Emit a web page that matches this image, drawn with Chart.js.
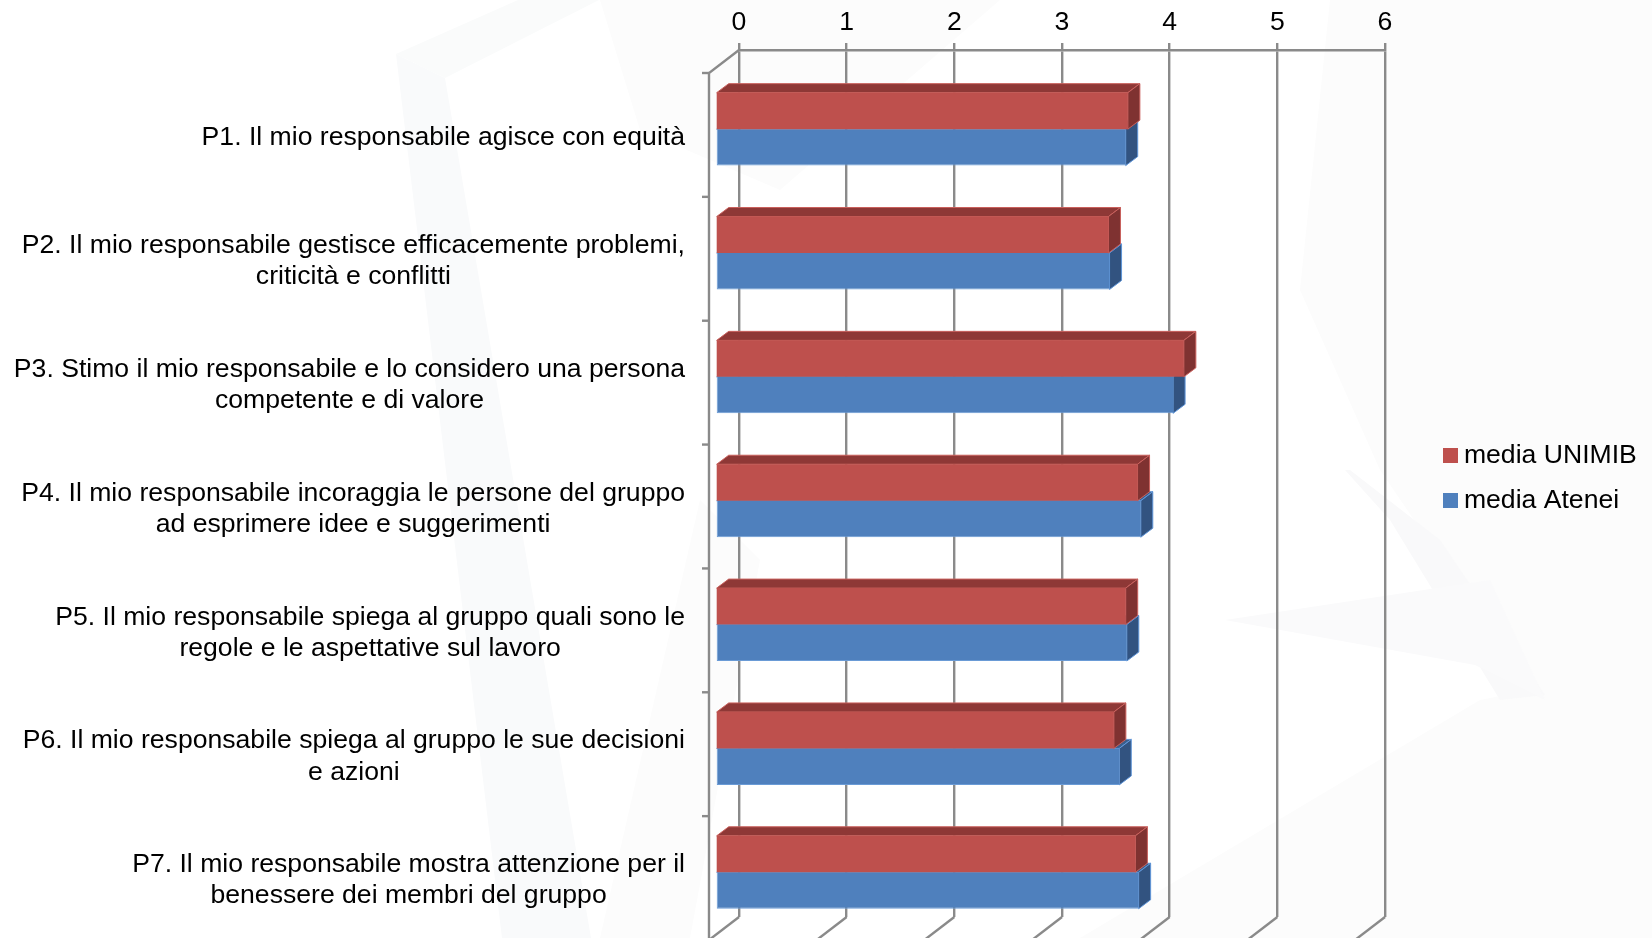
<!DOCTYPE html>
<html>
<head>
<meta charset="utf-8">
<style>html,body{margin:0;padding:0;background:#fff;overflow:hidden}#w{position:relative;width:1652px;height:938px}</style>
<script src="https://cdn.jsdelivr.net/npm/chart.js@4"></script>
</head>
<body>
<div id="w"><canvas id="c" width="1652" height="938"></canvas></div>
<script>
const categories = [
  ["P1. Il mio responsabile agisce con equità"],
  ["P2. Il mio responsabile gestisce efficacemente problemi,", "criticità e conflitti"],
  ["P3. Stimo il mio responsabile e lo considero una persona", "competente e di valore"],
  ["P4. Il mio responsabile incoraggia le persone del gruppo", "ad esprimere idee e suggerimenti"],
  ["P5. Il mio responsabile spiega al gruppo quali sono le", "regole e le aspettative sul lavoro"],
  ["P6. Il mio responsabile spiega al gruppo le sue decisioni", "e azioni"],
  ["P7. Il mio responsabile mostra attenzione per il", "benessere dei membri del gruppo"]
];
const mediaUnimib = [3.83, 3.65, 4.35, 3.92, 3.81, 3.70, 3.90];
const mediaAtenei = [3.81, 3.66, 4.25, 3.95, 3.82, 3.75, 3.93];
const xTicks = [0, 1, 2, 3, 4, 5, 6];

const FONT = "'Liberation Sans', Arial, sans-serif";
const FSIZE = 26.6;
const AXIS = '#8a8a8a';
// projection offsets of the 3D look
const FRONT = {dx: -30, dy: 23};      // floor/side wall front edge relative to back wall
const BAR = {dx: -23.5, dy: 17.2};    // bar front face relative to back wall
const DEPTH = {dx: 12, dy: -9};       // bar depth
const LEGEND_SWATCH = 15;

const watermark = [
  ['#f9fafb', [[396,54],[445,78],[591,938],[502,938]]],
  ['#fafbfb', [[396,54],[518,0],[599,0],[445,78]]],
  ['#f9fafa', [[1439,90],[1516,431],[1459,371],[1414,179]]],
  ['#fcfcfc', [[1550,0],[1652,0],[1652,938],[1080,938],[1480,700],[1530,690],[1380,470],[1300,290],[1330,0]]],
  ['#fcfcfc', [[600,0],[1000,0],[780,190],[640,130]]],
  ['#f9f9fa', [[1345,470],[1390,520],[1500,700],[1545,695],[1440,540],[1350,470]]],
  ['#fafafb', [[1225,620],[1490,580],[1545,700],[1475,665]]],
  ['#fcfcfc', [[600,938],[700,500],[760,560],[690,938]]]
];

function swatch(color) {
  const s = document.createElement('canvas');
  s.width = s.height = LEGEND_SWATCH;
  const g = s.getContext('2d');
  g.fillStyle = color; g.fillRect(0, 0, LEGEND_SWATCH, LEGEND_SWATCH);
  return s;
}

const bgPlugin = {
  id: 'bg',
  beforeDraw(chart) {
    const c = chart.ctx;
    c.save();
    watermark.forEach(([col, pts]) => {
      c.fillStyle = col; c.beginPath();
      pts.forEach((p, i) => i ? c.lineTo(p[0], p[1]) : c.moveTo(p[0], p[1]));
      c.closePath(); c.fill();
    });
    c.restore();
    // centre the lines of each multi-line category label on each other
    const y = chart.scales.y;
    y.getLabelItems(chart.chartArea).forEach(it => {
      if (it._done) return;
      it._done = true;
      c.save(); c.font = it.font.string;
      const lines = [].concat(it.label);
      const w = Math.max(...lines.map(l => c.measureText(l).width));
      c.restore();
      it.options.textAlign = 'center';
      it.options.translation[0] -= w / 2;
    });
  },
  beforeDatasetsDraw(chart) {
    const c = chart.ctx, xs = chart.scales.x, ys = chart.scales.y;
    c.save();
    c.strokeStyle = AXIS; c.lineWidth = 2.4; c.lineCap = 'butt';
    const a = chart.chartArea;
    // floor lines from each x tick
    xs.ticks.forEach(t => {
      const px = xs.getPixelForValue(t.value);
      c.beginPath(); c.moveTo(px, a.bottom); c.lineTo(px + FRONT.dx, a.bottom + FRONT.dy); c.stroke();
    });
    // side wall: front vertical edge, top diagonal, and category tick marks
    const x0 = xs.getPixelForValue(0), fx = x0 + FRONT.dx;
    c.beginPath(); c.moveTo(x0, a.top); c.lineTo(fx, a.top + FRONT.dy); c.lineTo(fx, a.bottom + FRONT.dy); c.stroke();
    const band = ys.height / categories.length;
    for (let i = 0; i <= categories.length; i++) {
      const py = ys.getPixelForValue(0) - band / 2 + i * band + FRONT.dy;
      c.beginPath(); c.moveTo(fx, py); c.lineTo(fx - 7, py); c.stroke();
    }
    c.restore();
    c.save();
    c.translate(BAR.dx, BAR.dy);
  },
  beforeDatasetDraw(chart, args) {
    const c = chart.ctx, ds = chart.data.datasets[args.index];
    const d = DEPTH;
    c.save();
    c.lineWidth = 1; c.strokeStyle = ds.edgeColor; c.lineJoin = 'round';
    args.meta.data.forEach(el => {
      const p = el.getProps(['x', 'y', 'base', 'height'], true);
      const L = p.base, R = p.x, T = p.y - p.height / 2, B = p.y + p.height / 2;
      c.fillStyle = ds.topColor;
      c.beginPath(); c.moveTo(L, T); c.lineTo(L + d.dx, T + d.dy); c.lineTo(R + d.dx, T + d.dy); c.lineTo(R, T); c.closePath(); c.fill(); c.stroke();
      c.fillStyle = ds.sideColor;
      c.beginPath(); c.moveTo(R, T); c.lineTo(R + d.dx, T + d.dy); c.lineTo(R + d.dx, B + d.dy); c.lineTo(R, B); c.closePath(); c.fill(); c.stroke();
    });
    c.restore();
  },
  afterDatasetsDraw(chart) { chart.ctx.restore(); },
  beforeUpdate(chart) {
    const l = chart.legend;
    if (!l._fixed) {
      l._fixed = true;
      const fit = l.fit;
      l.fit = function () { fit.call(this); this.width = 267; };
    }
  },
  afterLayout(chart) {
    const l = chart.legend;
    l.left = 1431.5; l.right = 1652; l.top = 423; l.bottom = 938;
  }
};

new Chart(document.getElementById('c'), {
  type: 'bar',
  plugins: [bgPlugin],
  data: {
    labels: categories,
    datasets: [
      {label: 'media UNIMIB', data: mediaUnimib, backgroundColor: '#BE504D', topColor: '#8E3836', sideColor: '#7F3231', edgeColor: '#C9605C', clip: false, borderWidth: 0},
      {label: 'media Atenei', data: mediaAtenei, backgroundColor: '#4F80BD', topColor: '#3A5F8C', sideColor: '#325380', edgeColor: '#5F95D8', clip: false, borderSkipped: false, borderWidth: {bottom: 1, left: 1, right: 0, top: 0}, borderColor: '#6A9BD6'}
    ]
  },
  options: {
    indexAxis: 'y',
    responsive: false,
    animation: false,
    events: [],
    layout: {padding: {left: 0, top: 0, right: 0, bottom: 21}},
    datasets: {bar: {categoryPercentage: 0.589, barPercentage: 1}},
    plugins: {
      tooltip: {enabled: false},
      legend: {
        position: 'right',
        align: 'start',
        labels: {
          usePointStyle: true,
          pointStyleWidth: 0.1,
          padding: 19,
          color: '#000',
          font: {family: FONT, size: FSIZE},
          generateLabels(chart) {
            const items = Chart.defaults.plugins.legend.labels.generateLabels(chart);
            items.forEach(it => { it.pointStyle = swatch(it.fillStyle); });
            return items;
          }
        }
      }
    },
    scales: {
      x: {
        position: 'top',
        min: 0, max: 6,
        afterFit(s) { s.height = 50; s.paddingLeft = s.paddingRight = s.paddingTop = s.paddingBottom = 0; },
        afterBuildTicks(s) { s.ticks = xTicks.map(v => ({value: v})); },
        border: {display: true, color: AXIS, width: 2.4},
        grid: {color: AXIS, lineWidth: 2.4, tickLength: 7, drawOnChartArea: true, drawTicks: true},
        ticks: {color: '#000', padding: 4, maxRotation: 0, font: {family: FONT, size: FSIZE}}
      },
      y: {
        afterFit(s) { s.width = 739; s.paddingLeft = s.paddingRight = s.paddingTop = s.paddingBottom = 0; },
        border: {display: false},
        grid: {display: false, drawTicks: false},
        ticks: {
          color: '#000', padding: 54, crossAlign: 'near', labelOffset: 25.5, autoSkip: false, maxRotation: 0,
          font: {family: FONT, size: FSIZE, lineHeight: 1.17}
        }
      }
    }
  }
});
</script>
</body>
</html>
